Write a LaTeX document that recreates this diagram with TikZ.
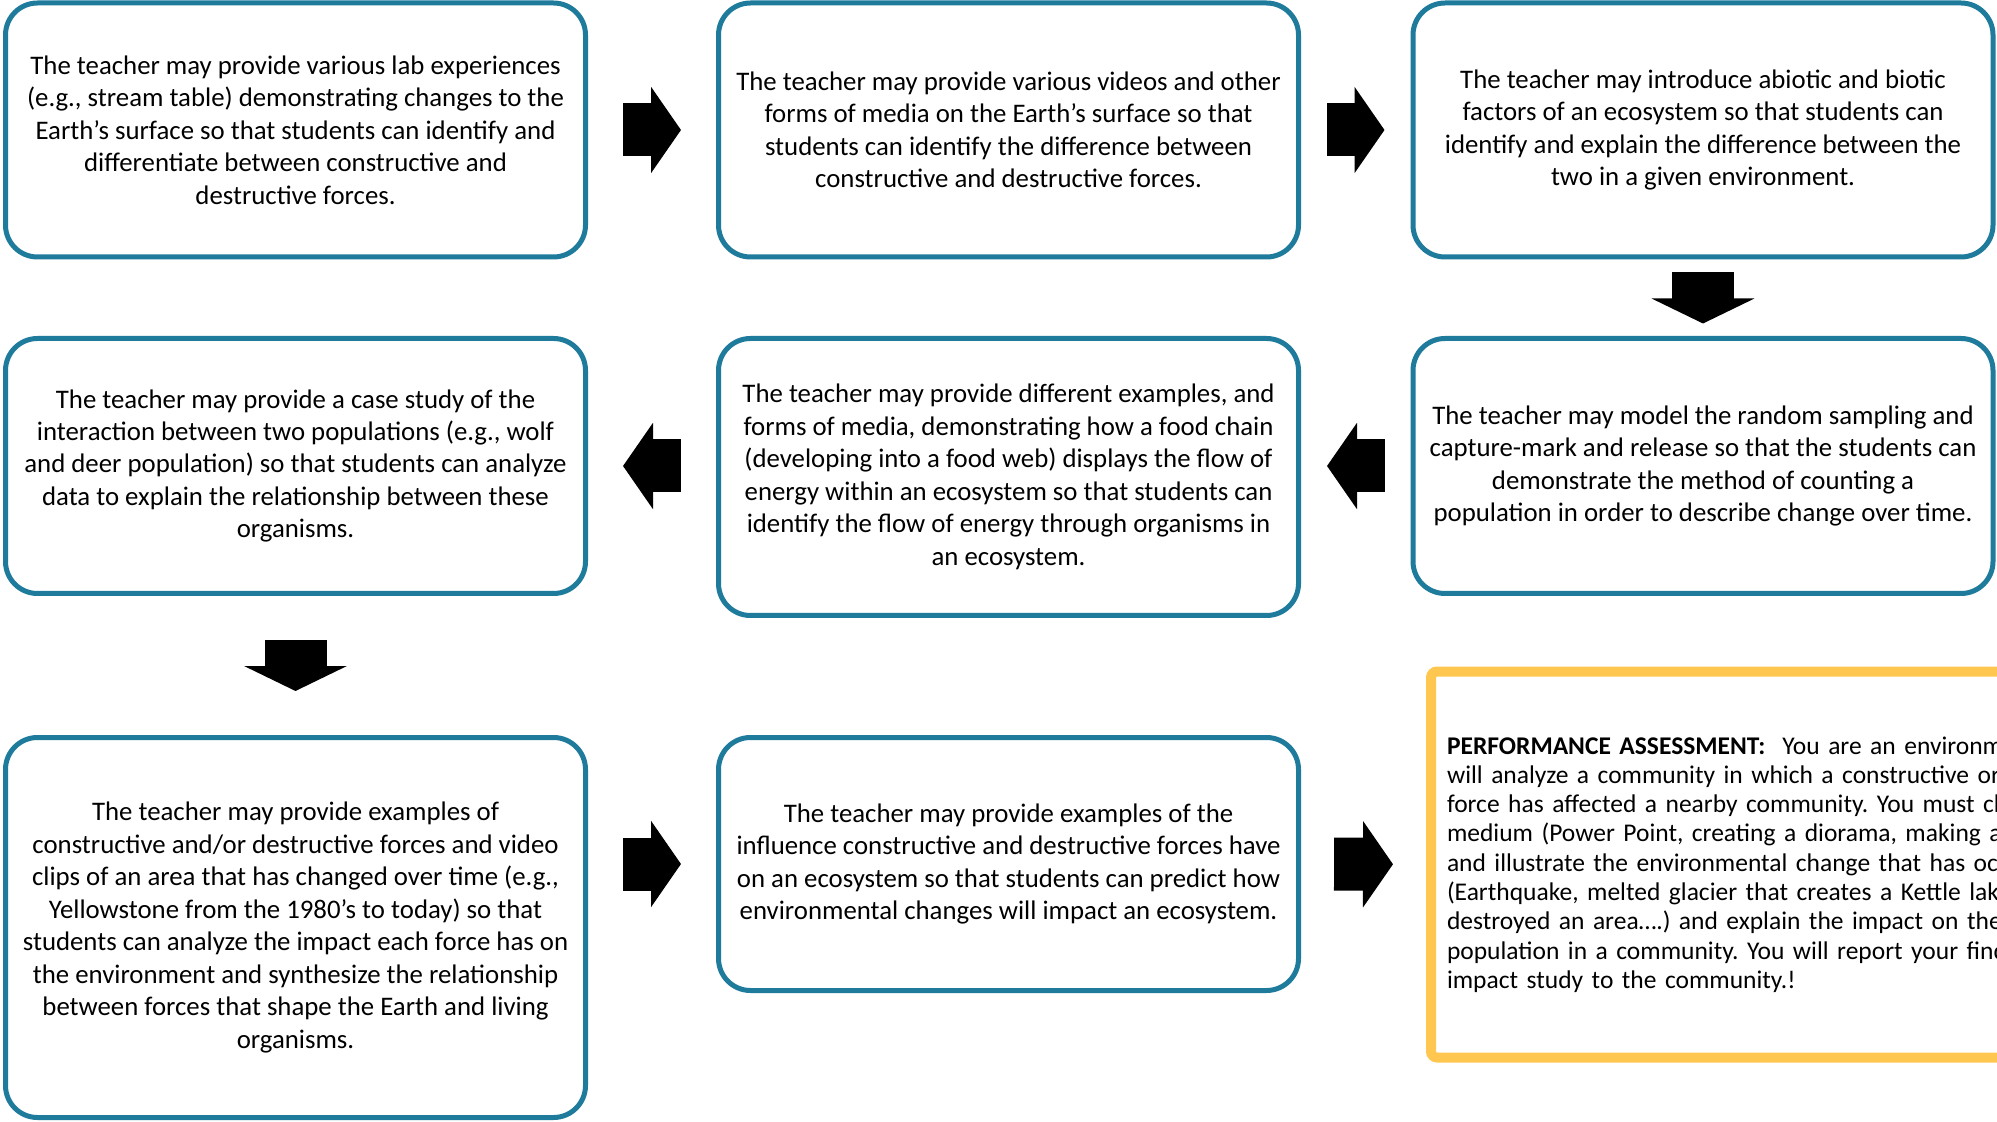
\documentclass[tikz,border=0pt]{standalone}
\usepackage{fontspec}
\setmainfont{Carlito}
\usetikzlibrary{arrows.meta}
\definecolor{bleu}{RGB}{31,123,155}
\definecolor{jaune}{RGB}{255,199,79}
\frenchspacing
\begin{document}
\begin{tikzpicture}[x=0.5pt, y=-0.5pt]
\tikzstyle{etape} = [draw=bleu, line width=2.5pt, rounded corners=16pt, minimum width=290pt, inner sep=0pt, align=center, font=\fontsize{13.4}{16.25}\selectfont]
\tikzstyle{bilan} = [draw=jaune, line width=5pt, rounded corners=3pt, minimum height=193pt, text width=310pt, inner xsep=8pt, align=left, font=\fontsize{12.75}{14.65}\selectfont]
\tikzstyle{fleche} = [line width=26.5pt, -{Triangle[width=42.5pt, length=15pt]}]
\tikzstyle{flechebas} = [line width=31pt, -{Triangle[width=51pt, length=12.5pt]}]
\useasboundingbox (0,0) rectangle (1997,1122);
\clip (0,0) rectangle (1997,1122);
% first row
\node[etape, minimum height=127pt] (b1) at (295.5,130) {The teacher may provide various lab experiences\\(e.g., stream table) demonstrating changes to the\\Earth’s surface so that students can identify and\\differentiate between constructive and\\destructive forces.};
\node[etape, minimum height=127pt] (b2) at (1008.5,130) {The teacher may provide various videos and other\\forms of media on the Earth’s surface so that\\students can identify the difference between\\constructive and destructive forces.};
\node[etape, minimum height=127pt] (b3) at (1703,130) {The teacher may introduce abiotic and biotic\\factors of an ecosystem so that students can\\identify and explain the difference between the\\two in a given environment.};
% second row
\node[etape, minimum height=127.5pt] (b4) at (295.5,466) {The teacher may provide a case study of the\\interaction between two populations (e.g., wolf\\and deer population) so that students can analyze\\data to explain the relationship between these\\organisms.};
\node[etape, minimum height=138.5pt] (b5) at (1008.5,477) {The teacher may provide different examples, and\\forms of media, demonstrating how a food chain\\(developing into a food web) displays the flow of\\energy within an ecosystem so that students can\\identify the flow of energy through organisms in\\an ecosystem.};
\node[etape, minimum height=127.5pt] (b6) at (1703,466) {The teacher may model the random sampling and\\capture-mark and release so that the students can\\demonstrate the method of counting a\\population in order to describe change over time.};
% third row
\node[etape, minimum height=190pt] (b7) at (295.5,927.5) {The teacher may provide examples of\\constructive and/or destructive forces and video\\clips of an area that has changed over time (e.g.,\\Yellowstone from the 1980’s to today) so that\\students can analyze the impact each force has on\\the environment and synthesize the relationship\\between forces that shape the Earth and living\\organisms.};
\node[etape, minimum height=126.5pt] (b8) at (1008.5,864) {The teacher may provide examples of the\\influence constructive and destructive forces have\\on an ecosystem so that students can predict how\\environmental changes will impact an ecosystem.};
\node[bilan, anchor=west] (pa) at (1426,864.5) {\textbf{PERFORMANCE ASSESSMENT:}\ \ You are an environmental\\will analyze a community in which a constructive or\\force has affected a nearby community. You must choose\\medium (Power Point, creating a diorama, making a\\and illustrate the environmental change that has occurred\\(Earthquake, melted glacier that creates a Kettle lake\\destroyed an area….) and explain the impact on the\\population in a community. You will report your findings\\impact study to the community.!};
% arrows
\draw[fleche, shorten <=17.5pt, shorten >=17.5pt] (b1) -- (b2);
\draw[fleche, shorten <=13pt, shorten >=13pt] (b2) -- (b3);
\draw[flechebas, shorten <=6.25pt, shorten >=6.25pt] (b3) -- (b6);
\draw[fleche, shorten <=13pt, shorten >=13pt] (b6.west) -- (b5.east |- b6.west);
\draw[fleche, shorten <=17.5pt, shorten >=17.5pt] (b5.west |- b4.east) -- (b4.east);
\draw[flechebas, shorten <=22pt, shorten >=22pt] (b4) -- (b7);
\draw[fleche, shorten <=17.5pt, shorten >=17.5pt] (b7.east |- b8.west) -- (b8.west);
\draw[fleche, shorten <=16.5pt, shorten >=16.5pt] (b8) -- (pa);
\end{tikzpicture}
\end{document}
